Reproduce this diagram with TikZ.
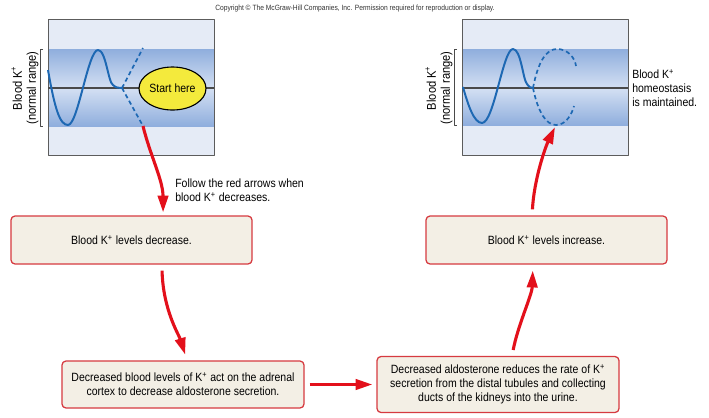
\documentclass[tikz,border=0pt]{standalone}
\usepackage{fontspec}
\setmainfont{Liberation Sans}[FakeStretch=0.88]
\usetikzlibrary{arrows.meta,shapes.geometric}
\definecolor{kred}{HTML}{E3101B}
\definecolor{kedge}{HTML}{D63A40}
\definecolor{kbeige}{HTML}{F3EFE5}
\definecolor{kpale}{HTML}{E5EBF6}
\definecolor{kband}{HTML}{8FAEDD}
\definecolor{kbandlt}{HTML}{D4E0F3}
\definecolor{kblue}{HTML}{1D68B3}
\definecolor{kgray}{HTML}{4A4A4A}
\definecolor{kyellow}{HTML}{F4EA3C}

\begin{document}
\begin{tikzpicture}[x=0.25mm, y=-0.25mm, line join=round,
  stepbox/.style={draw=kedge, line width=0.9pt, fill=kbeige, rounded corners=1mm,
    align=center, inner sep=0pt, font=\fontsize{8.5}{9.8}\selectfont},
  redarrow/.style={draw=kred, line width=2.2pt, -{Triangle[length=4.2mm, width=2.6mm]}},
  wave/.style={kblue, line width=1.4pt},
  dashwave/.style={kblue, line width=1.2pt, dash pattern=on 3pt off 2.2pt},
  ylabel/.style={rotate=90, align=center, font=\fontsize{9}{10}\selectfont},
  note/.style={anchor=west, align=left, inner sep=0pt, font=\fontsize{8.5}{9.8}\selectfont}]
  \useasboundingbox (0,0) rectangle (709,417);
  % copyright line
  \node[font=\fontsize{5.4}{6}\selectfont, text=black!80] (copy) at (355,9)
    {Copyright \textcopyright{} The McGraw-Hill Companies, Inc. Permission required for reproduction or display.};

  % left graph: falling K+
  \fill[kpale] (48,19) rectangle (214,155);
  \shade[top color=kband, bottom color=kbandlt] (48,49) rectangle (214,88);
  \shade[top color=kbandlt, bottom color=kband] (48,88) rectangle (214,126);
  \draw[kgray!90, line width=0.6pt] (48,19) rectangle (214,155);
  \draw[kgray, line width=1.1pt] (48,88) -- (214,88);
  \draw[kgray, line width=0.6pt] (43,49) -- (40.5,49) -- (40.5,126) -- (43,126);
  \node[ylabel] (lrange) at (25,88) {Blood K\textsuperscript{+}\\(normal range)};
  \draw[wave] (48,70) .. controls (55,110) and (60,125) .. (68,125)
    .. controls (78,125) and (88,50) .. (98,50)
    .. controls (106,50) and (108,82) .. (113,85)
    .. controls (116,88) and (119,88) .. (122,88);
  \draw[dashwave] (122,88) -- (143,48);
  \draw[dashwave] (122,88) -- (143,126);
  \coordinate (lowdash) at (143,126);
  \node[ellipse, draw=black, line width=0.8pt, fill=kyellow, minimum width=16.75mm,
    minimum height=10.75mm, inner sep=0pt, font=\fontsize{8.5}{9.8}\selectfont] (start) at (172.5,88.5) {Start here};

  % right graph: K+ restored
  \fill[kpale] (462,19) rectangle (628,155);
  \shade[top color=kband, bottom color=kbandlt] (462,49) rectangle (628,88);
  \shade[top color=kbandlt, bottom color=kband] (462,88) rectangle (628,125);
  \draw[kgray!90, line width=0.6pt] (462,19) rectangle (628,155);
  \draw[kgray, line width=1.1pt] (462,88) -- (628,88);
  \draw[kgray, line width=0.6pt] (457,49) -- (454.5,49) -- (454.5,125) -- (457,125);
  \node[ylabel] (rrange) at (439,88) {Blood K\textsuperscript{+}\\(normal range)};
  \draw[wave] (463,87) .. controls (468,105) and (474,123) .. (482,123)
    .. controls (494,123) and (503,49) .. (513,49)
    .. controls (521,49) and (523,80) .. (527,84)
    .. controls (529,87) and (531,88) .. (533,88);
  \draw[dashwave] (533,88) .. controls (538,62) and (546,49) .. (557,49)
    .. controls (568,49) and (575,58) .. (576,66);
  \draw[dashwave] (533,88) .. controls (538,112) and (546,125) .. (556,125)
    .. controls (566,125) and (572,114) .. (574,106);
  \coordinate (highdash) at (555,127);
  \node[note] (kept) at (632,88) {Blood K\textsuperscript{+}\\homeostasis\\is maintained.};

  % steps
  \node[note] (hint) at (175,190.5) {Follow the red arrows when\\blood K\textsuperscript{+} decreases.};
  \node[stepbox, minimum width=60.25mm, minimum height=12mm] (fall) at (131.5,240)
    {Blood K\textsuperscript{+} levels decrease.};
  \node[stepbox, minimum width=60.5mm, minimum height=11.75mm] (adrenal) at (183,384.5)
    {Decreased blood levels of K\textsuperscript{+} act on the adrenal\\cortex to decrease aldosterone secretion.};
  \node[stepbox, minimum width=60.25mm, minimum height=12mm] (rise) at (546.5,240)
    {Blood K\textsuperscript{+} levels increase.};
  \node[stepbox, minimum width=60.5mm, minimum height=14mm] (kidney) at (498,384.5)
    {Decreased aldosterone reduces the rate of K\textsuperscript{+}\\secretion from the distal tubules and collecting\\ducts of the kidneys into the urine.};

  % red arrows
  \draw[redarrow, shorten >=0.75mm] (lowdash) .. controls (150,155) and (163,180) .. ([xshift=7.9mm]fall.north);
  \draw[redarrow, shorten <=1.5mm, shorten >=1.5mm] ([xshift=7.6mm]fall.south)
    .. controls (163,310) and (179,335) .. ([xshift=1mm]adrenal.north);
  \draw[redarrow, shorten <=1.25mm, shorten >=1mm] (adrenal.east) -- (adrenal.east -| kidney.west);
  \draw[redarrow, shorten <=1.5mm, shorten >=1.5mm] ([xshift=3.5mm]kidney.north)
    .. controls (518,325) and (532,295) .. ([xshift=-3.4mm]rise.south);
  \draw[redarrow, shorten <=1.5mm] ([xshift=-3.6mm]rise.north) .. controls (534,180) and (545,148) .. (highdash);
\end{tikzpicture}
\end{document}
